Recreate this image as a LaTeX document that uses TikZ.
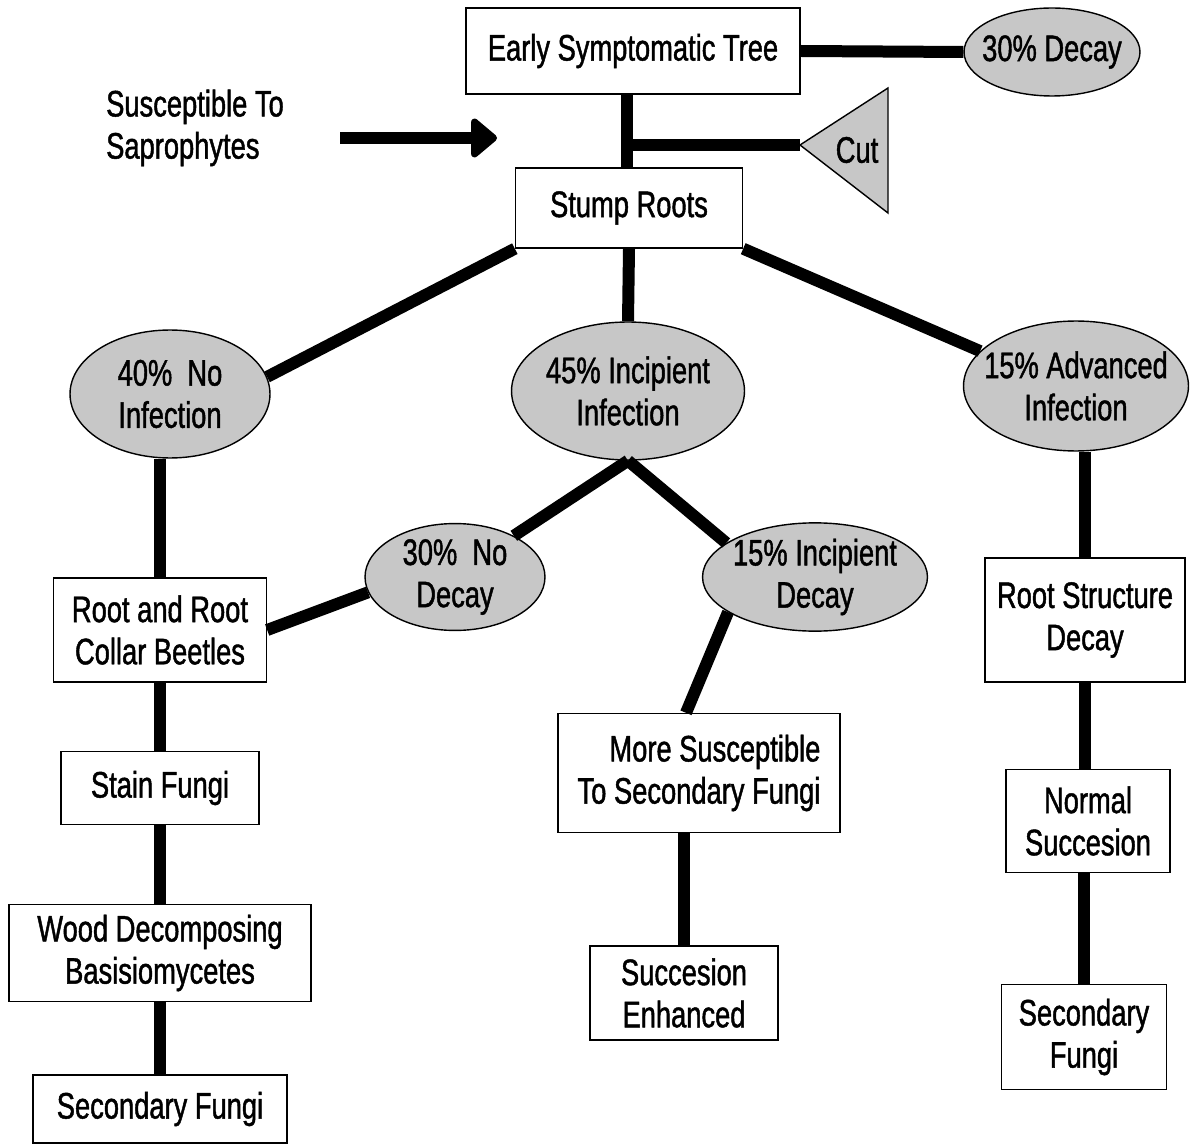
\documentclass[tikz,border=0pt]{standalone}
\usepackage{fontspec}
\setmainfont{Liberation Sans}[FakeStretch=0.74, FakeBold=1.2]
\usetikzlibrary{arrows.meta,shapes.geometric}

\tikzset{
  box/.style={rectangle, draw, line width=0.8pt, fill=white, align=center, inner sep=0pt},
  blob/.style={ellipse, draw, line width=0.8pt, fill=black!22, align=center, inner sep=0pt},
  link/.style={line width=0.24cm},
}

\begin{document}
\begin{tikzpicture}[x=0.02cm, y=-0.02cm, font=\fontsize{21}{24}\selectfont]
    \useasboundingbox (0,0) rectangle (1200,1145);

    % ノード
    \node[box, minimum width=6.68cm, minimum height=1.72cm] (tree) at (633,51) {Early Symptomatic Tree};
    \node[blob, inner xsep=-0.2cm, minimum width=3.52cm, minimum height=1.76cm] (decay30) at (1052,52) {30\% Decay};
    \node[anchor=west, align=left] (sus) at (100,128) {Susceptible To\\Saprophytes};
    \coordinate (arrs) at (340,138);
    \coordinate (arre) at (497,138);
    \draw[line width=0.8pt, fill=black!22] (800,145) coordinate (cuttip) -- (888,88) -- (888,213) -- cycle;
    \node (cut) at (857,150) {Cut};
    \coordinate (cutj) at (627,145);
    \node[box, minimum width=4.54cm, minimum height=1.6cm] (stump) at (629,208) {Stump Roots};

    \node[blob, minimum width=4cm, minimum height=2.56cm] (noinf) at (170,394) {40\%\ \ No\\Infection};
    \node[blob, minimum width=4.66cm, minimum height=2.76cm] (inc) at (628,391) {45\% Incipient\\Infection};
    \node[blob, inner xsep=-0.3cm, minimum width=4.5cm, minimum height=2.6cm] (adv) at (1076,386) {15\% Advanced\\Infection};
    \node[blob, minimum width=3.6cm, minimum height=2cm] (nodecay) at (455,577) {30\%\ \ No\\Decay};
    \node[blob, inner xsep=-0.1cm, minimum width=4.5cm, minimum height=2cm] (incdecay) at (815,577) {15\% Incipient\\Decay};

    \node[box, minimum width=4.26cm, minimum height=2.08cm] (beetles) at (160,630) {Root and Root\\Collar Beetles};
    \node[box, minimum width=3.96cm, minimum height=1.46cm] (stain) at (160,788) {Stain Fungi};
    \node[box, minimum width=6.04cm, minimum height=1.94cm] (wood) at (160,953) {Wood Decomposing\\Basisiomycetes};
    \node[box, minimum width=5.08cm, minimum height=1.36cm] (sec1) at (160,1109) {Secondary Fungi};

    \node[box, minimum width=5.64cm, minimum height=2.38cm, align=right] (more) at (699,773) {More Susceptible\\To Secondary Fungi};
    \node[box, minimum width=3.76cm, minimum height=1.88cm] (succ) at (684,993) {Succesion\\Enhanced};

    \node[box, minimum width=4cm, minimum height=2.48cm] (rootdecay) at (1085,620) {Root Structure\\Decay};
    \node[box, minimum width=3.28cm, minimum height=2.06cm] (normal) at (1088,821) {Normal\\Succesion};
    \node[box, minimum width=3.3cm, minimum height=2.1cm] (sec2) at (1084,1037) {Secondary\\Fungi};

    % エッジ
    \draw[link] (tree.east) -- (decay30.west);
    \draw[link] (stump.north -| cutj) -- (tree.south -| cutj);
    \draw[link] (cutj) -- (cuttip);
    \draw[link, -{Triangle[length=0.56cm, width=0.9cm, round]}] (arrs) -- (arre);
    \draw[link] (stump.south west) -- (noinf.10);
    \draw[link] (stump.south) -- (inc.north);
    \draw[link] (stump.south east) -- (adv.160);
    \draw[link] (beetles.north) -- (beetles.north |- noinf.south);
    \draw[link] (inc.south) -- (nodecay.35);
    \draw[link] (inc.south) -- (incdecay.159);
    \draw[link] (beetles.east) -- (nodecay.190);
    \draw[link] (beetles.south) -- (stain.north);
    \draw[link] (stain.south) -- (wood.north);
    \draw[link] (wood.south) -- (sec1.north);
    \draw[link] (incdecay.202) -- ([xshift=-0.26cm]more.north);
    \draw[link] (succ.north) -- (succ.north |- more.south);
    \draw[link] (rootdecay.north) -- (rootdecay.north |- adv.south);
    \draw[link] (rootdecay.south) -- (rootdecay.south |- normal.north);
    \draw[link] (sec2.north) -- (sec2.north |- normal.south);
  \end{tikzpicture}
\end{document}
